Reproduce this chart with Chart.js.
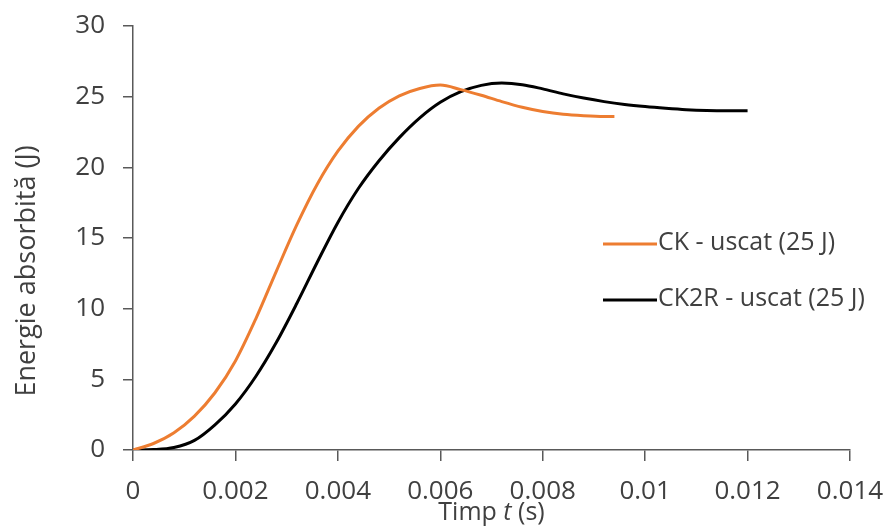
<!DOCTYPE html>
<html>
<head>
<meta charset="utf-8">
<script src="https://cdn.jsdelivr.net/npm/chart.js@4/dist/chart.umd.min.js"></script>
<style>
    body { margin: 0; background: #fff; }
    .chart-box { width: 884px; height: 528px; }
</style>
</head>
<body>
<div class="chart-box">
    <canvas id="chart-energy" width="884" height="528"></canvas>
</div>
<script>
// time (s) and absorbed energy (J) for each specimen
const timeCK = [0, 0.0004, 0.0008, 0.0012, 0.0016, 0.002, 0.0024, 0.0028, 0.0032, 0.0036, 0.004, 0.0044,
    0.0048, 0.0052, 0.0056, 0.006, 0.0064, 0.0068, 0.0072, 0.0076, 0.008, 0.0084, 0.0088, 0.0092, 0.0094];
const energyCK = [0, 0.46, 1.22, 2.4, 4.05, 6.3, 9.3, 12.66, 15.94, 18.82, 21.14, 22.9,
    24.18, 25.06, 25.58, 25.82, 25.5, 25.1, 24.65, 24.25, 23.95, 23.75, 23.65, 23.6, 23.6];

const timeCK2R = [0, 0.0004, 0.0008, 0.0012, 0.0016, 0.002, 0.0024, 0.0028, 0.0032, 0.0036, 0.004, 0.0044,
    0.0048, 0.0052, 0.0056, 0.006, 0.0064, 0.0068, 0.0072, 0.0076, 0.008, 0.0084, 0.0088, 0.0092,
    0.0096, 0.01, 0.0104, 0.0108, 0.0112, 0.0116, 0.012];
const energyCK2R = [0, 0.03, 0.18, 0.68, 1.78, 3.26, 5.22, 7.62, 10.38, 13.3, 16.1, 18.5,
    20.45, 22.1, 23.5, 24.6, 25.35, 25.8, 25.96, 25.85, 25.55, 25.2, 24.9, 24.65,
    24.45, 24.3, 24.18, 24.08, 24.02, 24.0, 24.0];

const seriesLabels = ['CK - uscat (25 J)', 'CK2R - uscat (25 J)'];
const xTicks = [0, 0.002, 0.004, 0.006, 0.008, 0.01, 0.012, 0.014];
const yTicks = [0, 5, 10, 15, 20, 25, 30];

const textColor = '#404040';
const axisColor = '#595959';
const fontFamily = '"Open Sans", "Noto Sans", sans-serif';

const toPoints = (xs, ys) => xs.map((x, i) => ({ x: x, y: ys[i] }));

// legend drawn inside the plot, right side
const insideLegend = {
    id: 'insideLegend',
    afterDatasetsDraw(chart) {
        const ctx = chart.ctx;
        const rows = [244, 300];
        ctx.save();
        ctx.font = '25px ' + fontFamily;
        ctx.textBaseline = 'middle';
        ctx.textAlign = 'left';
        chart.data.datasets.forEach((ds, i) => {
            ctx.strokeStyle = ds.borderColor;
            ctx.lineWidth = 3;
            ctx.beginPath();
            ctx.moveTo(603, rows[i]);
            ctx.lineTo(657, rows[i]);
            ctx.stroke();
            ctx.fillStyle = textColor;
            ctx.fillText(ds.label, 658, rows[i] - 1);
        });
        ctx.restore();
    }
};

// axis titles; the x title has an italic t
const axisTitles = {
    id: 'axisTitles',
    afterDraw(chart) {
        const ctx = chart.ctx;
        const area = chart.chartArea;
        const parts = [
            { text: 'Timp ', font: '25px ' + fontFamily },
            { text: 't', font: 'italic 25px ' + fontFamily },
            { text: ' (s)', font: '25px ' + fontFamily }
        ];
        ctx.save();
        ctx.fillStyle = textColor;
        ctx.textBaseline = 'middle';
        ctx.textAlign = 'left';
        let total = 0;
        parts.forEach(p => { ctx.font = p.font; total += ctx.measureText(p.text).width; });
        let x = (area.left + area.right) / 2 - total / 2;
        parts.forEach(p => {
            ctx.font = p.font;
            ctx.fillText(p.text, x, 513);
            x += ctx.measureText(p.text).width;
        });

        ctx.translate(27, 271);
        ctx.rotate(-Math.PI / 2);
        ctx.textAlign = 'center';
        ctx.font = '27px ' + fontFamily;
        ctx.fillText('Energie absorbită (J)', 0, 0);
        ctx.restore();
    }
};

const chartEnergy = new Chart(document.getElementById('chart-energy'), {
    type: 'line',
    data: {
        datasets: [{
            label: seriesLabels[0],
            data: toPoints(timeCK, energyCK),
            borderColor: '#ED7D31',
            borderWidth: 3,
            pointRadius: 0,
            cubicInterpolationMode: 'monotone',
            fill: false,
        }, {
            label: seriesLabels[1],
            data: toPoints(timeCK2R, energyCK2R),
            borderColor: '#000000',
            borderWidth: 3,
            pointRadius: 0,
            cubicInterpolationMode: 'monotone',
            fill: false,
        }]
    },
    options: {
        responsive: false,
        animation: false,
        layout: {
            padding: { top: 26, right: 34, left: 0, bottom: 0 }
        },
        scales: {
            x: {
                type: 'linear',
                min: 0,
                max: 0.014,
                afterBuildTicks: scale => { scale.ticks = xTicks.map(v => ({ value: v })); },
                afterFit: scale => {
                    scale.height = 78;
                    scale.paddingLeft = 0;
                    scale.paddingRight = 0;
                },
                ticks: {
                    color: textColor,
                    padding: 15,
                    maxRotation: 0,
                    font: { family: fontFamily, size: 26 },
                    callback: value => String(parseFloat(value.toFixed(3)))
                },
                grid: {
                    drawOnChartArea: false,
                    color: axisColor,
                    lineWidth: 1.5,
                    tickLength: 11
                },
                border: { color: axisColor, width: 1.5 }
            },
            y: {
                min: 0,
                max: 30,
                afterBuildTicks: scale => { scale.ticks = yTicks.map(v => ({ value: v })); },
                afterFit: scale => {
                    scale.width = 133;
                    scale.paddingTop = 0;
                    scale.paddingBottom = 0;
                },
                ticks: {
                    color: textColor,
                    padding: 18,
                    font: { family: fontFamily, size: 26 }
                },
                grid: {
                    drawOnChartArea: false,
                    color: axisColor,
                    lineWidth: 1.5,
                    tickLength: 10
                },
                border: { color: axisColor, width: 1.5 }
            }
        },
        plugins: {
            legend: { display: false },
            tooltip: { enabled: false }
        }
    },
    plugins: [insideLegend, axisTitles]
});
</script>
</body>
</html>
